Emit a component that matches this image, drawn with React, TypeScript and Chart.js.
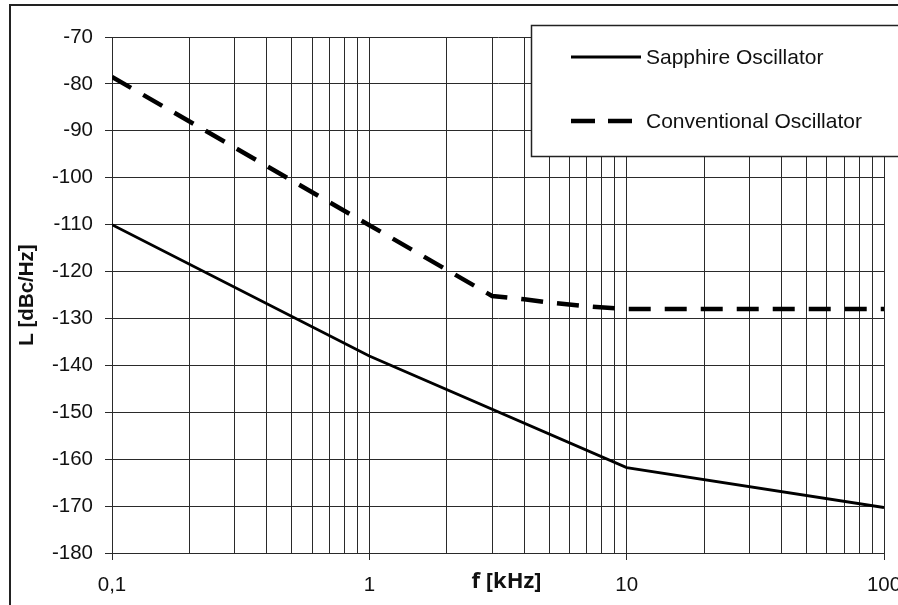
import React, { useEffect, useRef } from 'react';
import { Chart, registerables } from 'chart.js';

Chart.register(...registerables);

// ---- data ----
const seriesNames = ['Sapphire Oscillator', 'Conventional Oscillator'];
const sapphireFreq = [0.1, 1, 10, 100];
const sapphireL = [-110, -138, -161.8, -170.3];
const conventionalFreq = [0.1, 3, 4, 5, 7, 10, 100];
const conventionalL = [-78.5, -125.2, -125.9, -126.6, -127.4, -128, -128];
const xTickValues = [0.1, 1, 10, 100];
const xTickLabels = ['0,1', '1', '10', '100'];
const yMin = -180;
const yMax = -70;
const yStep = 10;
const xTitle = 'f [kHz]';
const yTitle = 'L [dBc/Hz]';

const TEXT_FONT = '"Liberation Sans", Arial, sans-serif';
const GRID = '#2a2a2a';

function gridValues(): number[] {
  const vals: number[] = [];
  for (let e = -1; e <= 1; e++) {
    for (let m = 1; m <= 9; m++) {
      vals.push(Number((m * Math.pow(10, e)).toFixed(4)));
    }
  }
  vals.push(100);
  return vals;
}

function isMajor(v: number): boolean {
  return xTickValues.some((t) => Math.abs(t - v) < 1e-9);
}

const legendPlugin = {
  id: 'boxLegend',
  afterDraw(chart: any) {
    const ctx = chart.ctx as CanvasRenderingContext2D;
    const x0 = 531.5;
    const y0 = 25.5;
    const x1 = chart.width + 10;
    const y1 = 156.5;
    ctx.save();
    ctx.fillStyle = '#ffffff';
    ctx.fillRect(x0, y0, x1 - x0, y1 - y0);
    ctx.strokeStyle = '#222';
    ctx.lineWidth = 1.5;
    ctx.strokeRect(x0, y0, x1 - x0, y1 - y0);
    const rows = [57, 121];
    const sampleEnd = [641, 632];
    const sampleWidth = [3, 4.5];
    const sampleDash = [[], [24, 13]];
    chart.data.datasets.forEach((ds: any, i: number) => {
      const y = rows[i];
      ctx.beginPath();
      ctx.setLineDash(sampleDash[i]);
      ctx.lineWidth = sampleWidth[i];
      ctx.strokeStyle = ds.borderColor;
      ctx.moveTo(571, y);
      ctx.lineTo(sampleEnd[i], y);
      ctx.stroke();
      ctx.setLineDash([]);
      ctx.fillStyle = '#111';
      ctx.font = `21px ${TEXT_FONT}`;
      ctx.textBaseline = 'middle';
      ctx.textAlign = 'left';
      ctx.fillText(ds.label, 646, y + 1);
    });
    ctx.restore();
  },
};

export default function App() {
  const canvasRef = useRef<HTMLCanvasElement | null>(null);

  useEffect(() => {
    if (!canvasRef.current) return;
    const chart = new Chart(canvasRef.current, {
      type: 'line',
      data: {
        datasets: [
          {
            label: seriesNames[0],
            data: sapphireFreq.map((f, i) => ({ x: f, y: sapphireL[i] })),
            borderColor: '#000',
            borderWidth: 2.8,
            pointRadius: 0,
            tension: 0,
            fill: false,
          },
          {
            label: seriesNames[1],
            data: conventionalFreq.map((f, i) => ({ x: f, y: conventionalL[i] })),
            borderColor: '#000',
            borderWidth: 4.5,
            borderDash: [22, 14],
            pointRadius: 0,
            tension: 0,
            fill: false,
          },
        ],
      },
      options: {
        responsive: false,
        animation: false,
        devicePixelRatio: 1,
        layout: { padding: { top: 37, right: 76, bottom: 0, left: 0 } },
        plugins: {
          legend: { display: false },
          tooltip: { enabled: false },
        },
        scales: {
          x: {
            type: 'logarithmic',
            min: 0.1,
            max: 100,
            afterBuildTicks: (scale: any) => {
              scale.ticks = gridValues().map((v) => ({ value: v, major: isMajor(v) }));
            },
            afterFit: (scale: any) => {
              scale.height = 52;
            },
            ticks: {
              autoSkip: false,
              maxRotation: 0,
              minRotation: 0,
              padding: 13,
              color: '#111',
              font: { family: TEXT_FONT, size: 20.5 },
              callback: (value: any) => {
                const idx = xTickValues.findIndex((t) => Math.abs(t - Number(value)) < 1e-9);
                return idx >= 0 ? xTickLabels[idx] : '';
              },
            },
            grid: {
              color: GRID,
              lineWidth: 1,
              tickLength: 7,
              tickColor: (ctx: any) =>
                ctx.tick && isMajor(ctx.tick.value) ? GRID : 'rgba(0,0,0,0)',
            },
            border: { color: GRID, width: 1 },
            title: {
              display: true,
              text: '   ' + xTitle,
              color: '#111',
              font: { family: '"Open Sans", sans-serif', size: 22, weight: 'bold' },
              padding: { top: 0, bottom: 10 },
            },
          },
          y: {
            type: 'linear',
            min: yMin,
            max: yMax,
            afterFit: (scale: any) => {
              scale.width = 112;
            },
            ticks: {
              stepSize: yStep,
              padding: 12,
              color: '#111',
              font: { family: TEXT_FONT, size: 20.5 },
            },
            grid: {
              color: GRID,
              lineWidth: 1,
              tickLength: 7,
              tickColor: GRID,
            },
            border: { color: GRID, width: 1 },
            title: {
              display: true,
              text: yTitle,
              color: '#111',
              font: { family: TEXT_FONT, size: 20.5, weight: 'bold' },
              padding: { top: 15, bottom: 0 },
            },
          },
        },
      },
      plugins: [legendPlugin],
    } as any);
    return () => chart.destroy();
  }, []);

  return (
    <div
      style={{
        position: 'absolute',
        left: 0,
        top: 0,
        width: 898,
        height: 605,
        overflow: 'hidden',
        background: '#fff',
      }}
    >
      <div
        style={{
          position: 'absolute',
          left: 9,
          top: 4,
          width: 1000,
          height: 700,
          border: '2px solid #222',
          boxSizing: 'border-box',
        }}
      />
      <canvas
        ref={canvasRef}
        width={960}
        height={605}
        style={{ position: 'absolute', left: 0, top: 0, width: 960, height: 605 }}
      />
    </div>
  );
}
